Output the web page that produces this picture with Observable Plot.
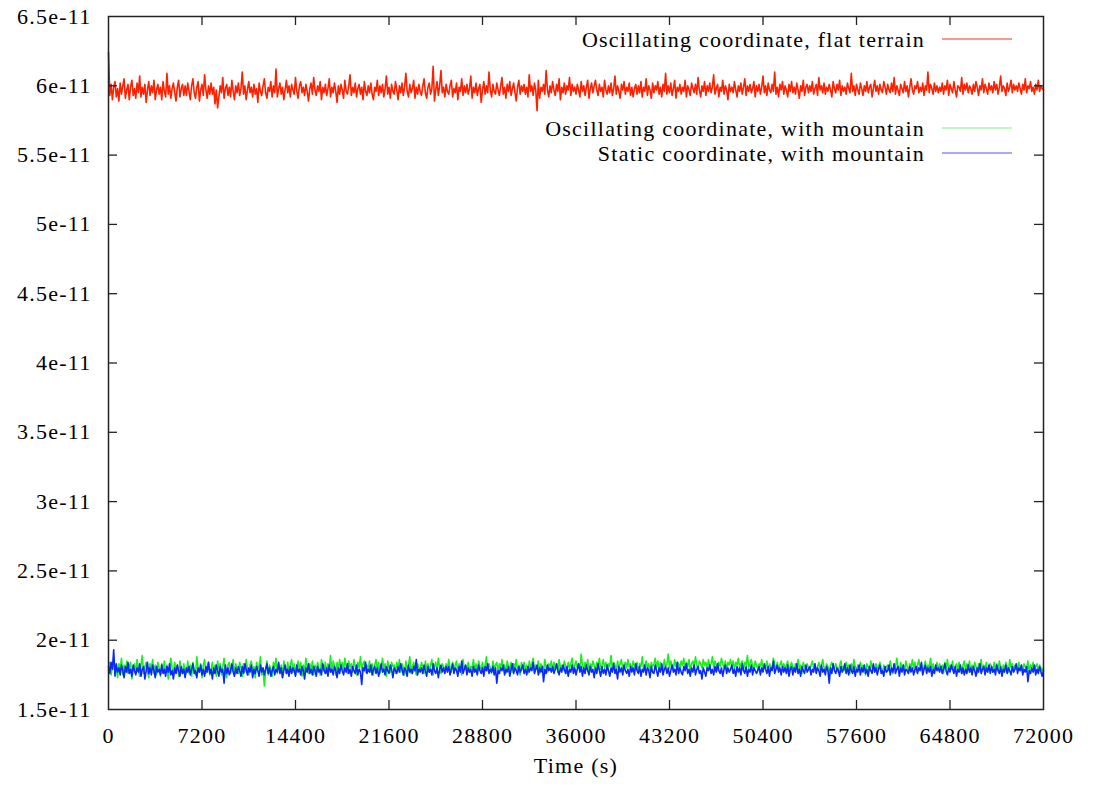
<!DOCTYPE html>
<html><head><meta charset="utf-8">
<script src="https://cdn.jsdelivr.net/npm/d3@7"></script>
<script src="https://cdn.jsdelivr.net/npm/@observablehq/plot@0.6"></script>
<style>html,body{margin:0;padding:0;background:#fff;overflow:hidden}</style>
</head><body><div id="chart"></div>
<script>
// evenly spaced samples over 0..72000 s; values in units of 1e-13
const timeStart = 0, timeEnd = 72000;
const flatOsc = [
624,593,601,590,599,603,592,598,589,602,594,600,605,591,597,601,590,599,604,593,
598,591,602,595,607,592,599,594,601,588,597,603,593,600,595,604,590,597,601,594,
599,590,603,596,592,609,594,600,591,598,602,595,589,599,604,592,598,601,593,600,
593,602,596,590,600,605,595,591,599,603,589,597,601,593,608,597,591,600,594,602,
594,599,587,597,584,592,600,595,606,591,598,601,593,599,592,604,596,590,600,595,
602,593,598,610,594,600,590,597,603,595,599,592,601,594,598,588,602,596,593,600,
605,595,591,599,596,603,592,600,595,612,592,598,602,594,599,590,597,604,595,600,
592,601,597,594,606,596,591,600,603,595,599,593,601,596,589,598,602,594,606,597,
593,600,596,603,590,599,595,601,593,598,605,592,599,595,602,596,588,600,594,601,
597,591,604,596,594,600,608,593,599,595,602,592,598,601,594,599,590,603,596,593,
600,595,602,594,590,599,596,604,593,600,595,601,592,598,607,594,599,591,601,596,
594,603,597,590,600,595,602,593,599,609,596,592,601,595,598,604,591,599,594,601,
596,593,600,605,595,591,599,602,594,598,614,589,597,603,593,600,611,595,599,592,
601,596,594,600,604,592,598,595,602,590,599,596,605,593,600,595,601,594,598,607,
591,599,595,602,593,598,601,588,597,603,594,600,595,610,597,592,601,596,594,602,
597,593,600,606,594,599,591,601,596,603,593,598,602,595,589,599,604,594,600,596,
601,594,599,592,608,596,600,593,602,597,582,604,591,599,596,601,594,611,597,592,
600,595,603,597,593,601,596,605,590,599,595,602,594,600,597,606,593,601,596,599,
594,601,597,592,603,596,600,593,599,604,591,598,602,595,600,604,597,593,601,596,
599,592,604,597,594,600,595,602,593,598,607,594,600,596,591,601,597,603,594,599,
596,602,593,599,592,598,601,594,600,595,603,592,599,596,605,593,600,597,591,602,
595,600,597,603,594,599,592,601,596,609,594,600,595,602,593,598,604,591,599,596,
601,594,599,596,604,592,600,597,593,602,598,595,601,594,606,597,592,600,596,603,
593,600,596,602,595,599,608,594,598,601,592,599,596,604,594,600,597,590,601,596,
599,595,603,597,592,600,596,602,594,599,605,593,600,596,601,595,598,603,592,600,
596,601,594,599,607,595,600,593,602,597,595,601,596,610,594,599,592,601,597,603,
594,600,597,592,601,596,603,595,599,594,602,597,591,600,596,604,593,599,601,595,
600,596,603,594,598,601,593,606,597,600,595,602,594,599,596,601,597,592,603,598,
595,601,597,604,593,600,596,599,594,602,598,595,609,596,600,593,601,597,594,602,
598,593,600,596,603,595,599,601,592,598,604,596,600,594,601,597,595,603,599,594,
601,597,595,602,596,606,594,600,597,593,601,598,595,603,596,600,592,599,605,597,
594,600,598,603,595,599,596,602,593,600,597,610,595,601,598,594,602,596,600,595,
599,596,602,594,600,597,604,593,601,598,595,603,597,592,600,599,596,606,594,601,
597,602,595,600,598,594,601,596,603,599,593,600,597,605,595,601,598,594,602,597,
600,595,603,597,601,594,599,607,596,600,598,593,602,596,599,604,595,601,597,600,
596,602,598,594,601,597,605,595,600,598,603,596,599,594,601,597,604,596,600,598,
597];
const mountainOsc = [
178,184,175,181,186,176,180,173,183,179,187,175,182,177,185,176,181,184,172,179,
183,176,186,179,174,182,189,176,181,184,177,173,183,179,186,176,182,175,184,180,
174,183,178,185,176,182,172,179,187,180,175,184,177,182,174,185,179,176,183,177,
176,185,176,182,174,184,179,175,188,180,177,183,173,182,186,176,181,184,175,179,
184,176,182,174,185,179,183,175,181,187,177,173,182,184,176,180,186,175,183,178,
176,184,180,174,183,177,186,179,175,182,185,176,181,173,184,179,182,188,175,180,
167,177,185,175,182,179,174,184,180,187,176,183,177,182,173,185,180,176,184,178,
182,186,177,183,175,181,185,178,184,174,182,177,187,180,176,183,178,185,175,182,
177,184,180,175,186,181,178,184,176,183,180,189,177,185,181,175,184,179,186,180,
184,178,187,181,176,185,180,183,177,186,181,175,184,180,188,178,183,185,177,182,
179,185,177,183,175,182,186,178,184,176,181,187,179,183,174,185,180,177,184,181,
182,176,184,179,186,177,183,180,175,185,178,182,188,176,181,184,179,175,183,180,
178,184,181,176,185,179,183,177,182,186,175,181,184,178,187,180,176,183,181,177,
183,179,186,180,177,184,178,182,185,176,183,180,175,186,179,182,178,184,177,181,
180,186,178,183,176,185,181,179,184,177,182,188,178,183,180,176,185,179,182,184,
177,183,180,186,178,182,176,185,181,179,184,177,183,180,186,178,182,175,184,180,
184,178,182,176,185,180,183,187,178,182,179,185,176,183,181,178,186,180,177,183,
181,185,178,184,179,183,177,186,180,182,178,185,181,176,184,180,183,187,179,182,
185,180,183,178,190,182,179,184,181,186,177,183,180,185,182,178,184,181,187,179,
182,186,180,184,178,183,181,189,179,184,182,177,185,180,183,186,179,182,184,180,
186,181,183,178,185,182,180,184,177,183,181,188,179,182,185,180,183,178,184,181,
183,187,180,185,179,184,182,178,186,181,183,190,180,185,182,179,186,181,184,183,
180,185,182,187,179,184,181,186,178,183,185,180,188,182,179,185,183,180,186,182,
184,179,186,181,183,188,180,185,182,178,184,181,187,183,180,185,179,184,182,186,
181,185,179,184,182,187,180,183,185,178,184,182,189,180,183,186,181,179,185,182,
179,183,181,186,178,182,180,185,177,183,181,179,187,182,180,184,178,182,185,180,
183,179,182,185,177,181,184,180,178,183,181,186,179,182,176,184,181,179,183,180,
178,182,185,180,183,177,181,184,179,182,186,180,178,183,181,175,182,184,180,179,
183,180,177,182,185,179,181,178,184,180,182,176,183,179,186,181,178,182,180,184,
179,182,180,175,183,181,178,185,180,182,177,183,179,181,184,180,176,182,179,181,
182,178,185,180,176,183,179,187,181,177,184,180,182,178,185,181,176,183,180,186,
180,184,177,182,186,179,183,176,181,185,178,182,180,187,179,183,177,181,184,178,
183,179,182,176,184,180,186,178,182,179,185,177,181,183,178,184,180,176,182,185,
178,183,180,185,177,182,179,184,181,176,183,180,186,178,182,179,184,177,181,183,
181,177,184,179,183,178,185,180,176,182,179,184,181,177,186,180,183,178,182,179,
180,184,178,182,176,183,181,179,185,177,182,180,184,178,181,183,177,182,180,178,
180];
const mountainStatic = [
181,176,184,179,193,174,183,177,180,175,182,178,173,181,177,184,176,179,174,182,
178,175,180,177,183,174,179,181,172,178,184,176,180,175,182,178,173,181,177,179,
175,182,176,179,174,181,177,183,175,178,172,180,176,182,178,174,181,176,179,173,
180,177,181,175,179,183,176,178,173,180,177,182,175,179,174,181,177,184,176,179,
172,180,176,182,178,174,181,177,179,169,182,176,180,175,178,183,177,174,180,176,
181,178,174,181,176,183,179,175,180,177,182,173,179,176,181,178,174,182,177,180,
175,179,183,176,180,174,178,181,175,179,177,184,176,180,173,178,182,176,179,174,
181,176,180,178,174,182,177,179,175,181,178,172,180,177,183,176,179,175,181,178,
174,181,177,179,175,183,178,176,180,174,182,177,179,175,181,178,173,180,176,182,
178,175,180,177,183,176,179,174,181,178,176,182,175,179,177,168,180,178,184,176,
179,177,182,175,179,181,176,180,174,178,183,177,179,175,181,178,176,182,179,173,
180,178,176,181,177,183,179,175,180,178,174,182,177,179,176,181,178,186,175,179,
177,180,176,182,178,174,181,177,179,175,183,178,176,180,173,179,182,177,180,176,
181,177,181,175,179,183,176,180,178,174,181,177,185,176,179,182,175,180,177,179,
174,181,177,179,175,182,178,176,180,174,181,178,183,176,179,177,181,175,180,169,
178,176,180,178,182,175,179,177,181,174,179,183,176,180,178,175,181,177,179,182,
176,179,175,181,177,180,178,184,176,179,182,175,180,177,181,170,179,176,182,178,
180,177,181,176,179,183,178,175,180,177,182,179,176,181,174,179,177,182,176,180,
175,179,183,177,181,174,180,176,182,178,175,181,177,179,173,180,176,183,178,174,
181,176,179,175,182,178,174,180,177,183,176,179,172,181,177,180,175,182,178,176,
179,174,181,177,180,175,183,178,176,181,174,179,177,182,175,180,178,173,181,177,
176,182,178,174,180,177,183,175,179,181,176,180,174,178,182,177,179,175,184,176,
180,177,175,181,178,183,176,179,174,180,177,182,175,179,181,176,178,172,180,177,
174,180,178,182,176,179,175,181,177,183,178,176,180,174,179,182,176,180,177,179,
182,176,179,174,181,177,180,175,183,178,176,181,174,179,177,182,175,180,178,176,
178,181,175,180,177,183,179,176,181,174,180,178,185,176,179,182,177,180,175,181,
177,180,176,182,174,179,181,175,180,177,183,176,179,174,181,178,176,182,177,179,
181,175,179,177,183,176,180,178,174,182,177,179,175,181,178,169,180,176,183,178,
176,180,178,174,181,177,179,183,176,180,175,182,178,176,181,174,179,177,182,175,
180,177,182,176,179,174,181,178,176,183,177,180,175,179,182,176,178,174,181,177,
178,182,175,180,177,183,176,179,181,174,180,177,182,175,179,178,176,181,177,180,
175,179,181,176,180,178,184,175,179,182,176,180,177,181,174,179,176,182,178,180,
177,181,176,179,183,178,175,180,177,182,179,176,181,174,179,177,182,176,180,175,
179,176,182,177,180,175,181,178,174,180,177,183,176,179,181,175,180,177,182,176,
181,177,179,175,182,178,176,181,174,179,177,182,176,180,178,175,181,177,179,183,
176,180,178,182,175,179,177,181,170,178,176,180,177,182,175,179,176,181,177,174,
178];
const xTicks = [0,7200,14400,21600,28800,36000,43200,50400,57600,64800,72000];
const yTicks = [150,200,250,300,350,400,450,500,550,600,650];
const yTickLabels = ["1.5e-11","2e-11","2.5e-11","3e-11","3.5e-11","4e-11","4.5e-11","5e-11","5.5e-11","6e-11","6.5e-11"];
const seriesNames = ["Oscillating coordinate, flat terrain","Oscillating coordinate, with mountain","Static coordinate, with mountain"];
const seriesColors = ["#ff2000","#18f018","#0a28ff"];
const legendColors = ["#ff7070","#a8f5a8","#8c8cff"];

const toRows = (arr) => arr.map((v, i) => ({t: timeStart + (timeEnd - timeStart) * i / (arr.length - 1), v}));
const rowsFlat = toRows(flatOsc), rowsMO = toRows(mountainOsc), rowsMS = toRows(mountainStatic);

const inner = xTicks.slice(1, -1), innerY = yTicks.slice(1, -1);
const tickColor = "#222";
const seriesWidth = 1.6;

const plot = Plot.plot({
  width: 1094, height: 786,
  marginLeft: 108, marginRight: 51, marginTop: 16, marginBottom: 77,
  style: {fontFamily: "'Liberation Serif', 'Times New Roman', serif", fontSize: "22px", letterSpacing: "1.25px", color: "#000", background: "#fff"},
  x: {domain: [timeStart, timeEnd]},
  y: {domain: [150, 650]},
  marks: [
    Plot.line(rowsMO, {x: "t", y: "v", stroke: seriesColors[1], strokeWidth: seriesWidth}),
    Plot.line(rowsMS, {x: "t", y: "v", stroke: seriesColors[2], strokeWidth: seriesWidth}),
    Plot.line(rowsFlat, {x: "t", y: "v", stroke: seriesColors[0], strokeWidth: seriesWidth}),
    Plot.frame({stroke: tickColor, strokeWidth: 1.5}),
    Plot.tickX(inner, {x: d => d, insetTop: 684, stroke: tickColor, strokeWidth: 1.3}),
    Plot.tickX(inner, {x: d => d, insetBottom: 684, stroke: tickColor, strokeWidth: 1.3}),
    Plot.tickY(innerY, {y: d => d, insetRight: 926, stroke: tickColor, strokeWidth: 1.3}),
    Plot.tickY(innerY, {y: d => d, insetLeft: 926, stroke: tickColor, strokeWidth: 1.3}),
    Plot.axisX(xTicks, {tickSize: 0, tickPadding: 18, tickFormat: d => `${d}`, label: null}),
    Plot.axisY(yTicks, {tickSize: 0, tickPadding: 17, tickFormat: d => yTickLabels[yTicks.indexOf(d)], label: null}),
    Plot.text(["Time (s)"], {text: d => d, frameAnchor: "bottom", dy: 63, fill: "#000"})
  ]
});
document.getElementById("chart").appendChild(plot);

// gnuplot-style key in the top-right corner
const svg = d3.select(plot);
const key = svg.append("g").attr("class", "key");
const keyRowsY = [39, 128, 153];
seriesNames.forEach((name, i) => {
  key.append("text").attr("x", 925).attr("y", keyRowsY[i]).attr("dy", "0.35em")
    .attr("text-anchor", "end").attr("fill", "#000").text(name);
  key.append("line").attr("x1", 942).attr("x2", 1012).attr("y1", keyRowsY[i]).attr("y2", keyRowsY[i])
    .attr("stroke", legendColors[i]).attr("stroke-width", 1.3);
});
</script>
</body></html>
